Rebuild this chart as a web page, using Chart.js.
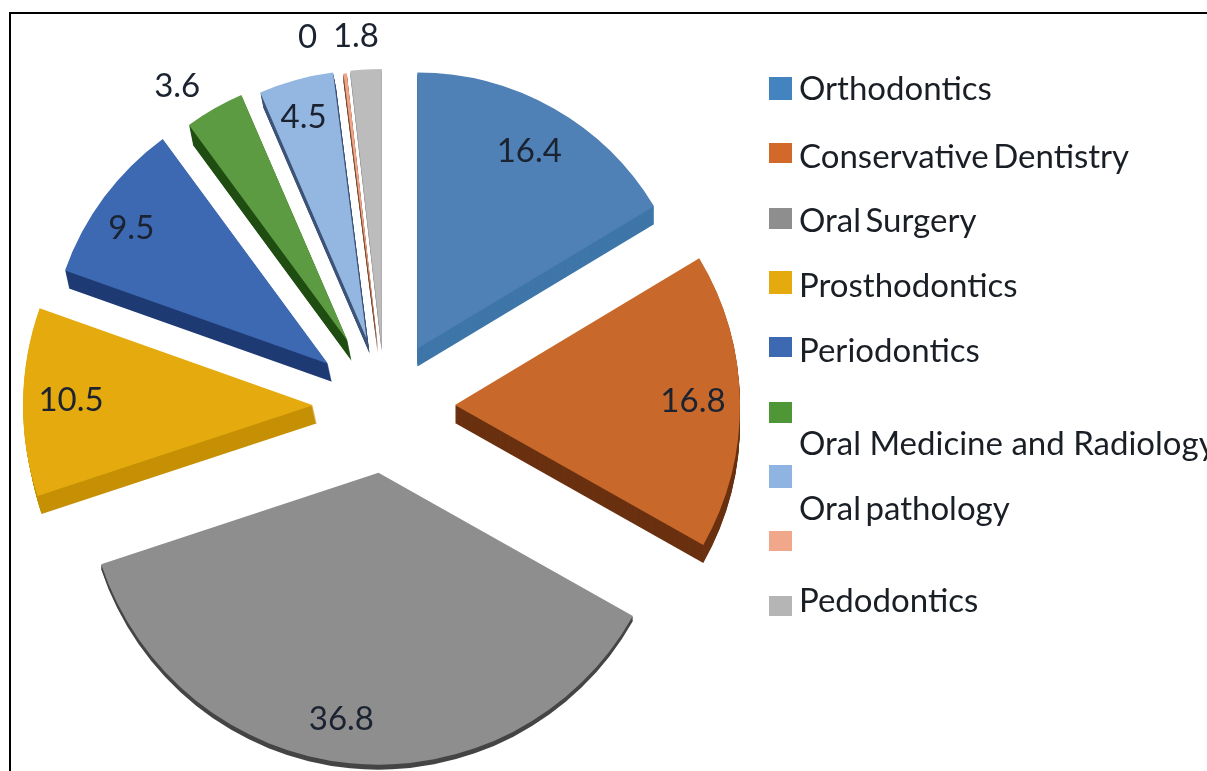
<!DOCTYPE html>
<html>
<head>
<meta charset="utf-8">
<title>Dental specialities</title>
<script src="https://cdn.jsdelivr.net/npm/chart.js@4"></script>
<style>
    html, body { margin: 0; padding: 0; background: #fff; overflow: hidden; }
    #wrap { position: relative; width: 1207px; height: 771px; overflow: hidden; }
    #frame { position: absolute; left: 9px; top: 12px; width: 1300px; height: 900px; border: 2px solid #000; }
    #pie { position: absolute; left: 0; top: 0; }
</style>
</head>
<body>
<div id="wrap">
    <div id="frame"></div>
    <canvas id="pie" width="1207" height="771"></canvas>
</div>
<script>
// slices clockwise from the top. The eighth one has a swatch but no name in the legend,
// it is labelled 0 but still shows as a thin sliver
const sliceNames = ['Orthodontics', 'Conservative Dentistry', 'Oral Surgery', 'Prosthodontics', 'Periodontics',
    'Oral Medicine and Radiology', 'Oral pathology', '', 'Pedodontics'];
const sliceValues = [16.4, 16.8, 36.8, 10.5, 9.5, 3.6, 4.5, 0.2, 1.8];
const valueLabels = ['16.4', '16.8', '36.8', '10.5', '9.5', '3.6', '4.5', '0', '1.8'];

const topColors = ['#4f81b6', '#c8692b', '#8e8e8e', '#e5ab0e', '#3d68b2', '#5c9b42', '#93b7e0', '#eea487', '#bcbcbc'];
const wallColors = ['#3f76a9', '#6a3110', '#454545', '#c69005', '#1f3b74', '#1f4d12', '#3e5478', '#7a4a30', '#9a9a9a'];
const legendColors = ['#4383c0', '#d2682a', '#8e8e8e', '#e5ab0e', '#3d68b2', '#4f9636', '#8fb4e2', '#f0a78a', '#b5b5b5'];

// layout of the exploded slices, px
const explode = [66, 70, 67, 72, 71, 75, 70, 60, 60];
const radii = [276, 285, 292, 290, 279, 268, 268, 275, 277];
const wallDepth = [18, 18, 5, 18, 18, 20, 15, 8, 5];
const wallShift = [0, 0, 0, 4, 4, 4, 3, 0, 0];
const labelDist = [227, 238, 249, 242, 239, 306, 230, 317, 311];
const labelTurn = [0, 0, 3, 0.5, -2, -4, -0.6, -6, -1.5];

// legend swatches and text do not line up in the original
const swatchTops = [77, 143, 208, 271, 337, 402, 465, 531, 596];
const swatchHeights = [23, 20, 21, 23, 20, 21, 23, 20, 20];
const textBaselines = [100, 168, 232, 297, 362, 455, 520, null, 612];
const wordGaps = [0, -4, -4, 0, 0, 0, -4, 0, 0];

const FONT = '33px Lato, "Open Sans", sans-serif';

const piePlugin = {
    id: 'pie3d',
    afterDatasetsUpdate(chart) {
        // explode by hand, every slice has its own distance and radius
        chart.getDatasetMeta(0).data.forEach((arc, i) => {
            const mid = (arc.startAngle + arc.endAngle) / 2;
            arc.x += Math.cos(mid) * explode[i];
            arc.y += Math.sin(mid) * explode[i];
            arc.outerRadius = radii[i];
        });
    },
    beforeDatasetsDraw(chart) {
        const ctx = chart.ctx;
        chart.getDatasetMeta(0).data.forEach((arc, i) => {
            const saved = arc.options;
            arc.options = Object.assign({}, saved, { backgroundColor: wallColors[i] });
            for (let k = wallDepth[i]; k > 0; k--) {
                ctx.save();
                ctx.translate(wallShift[i] * k / wallDepth[i], k);
                arc.draw(ctx);
                ctx.restore();
            }
            arc.options = saved;
        });
    },
    afterDatasetsDraw(chart) {
        const ctx = chart.ctx;
        ctx.save();
        ctx.font = FONT;
        ctx.textAlign = 'center';
        ctx.textBaseline = 'middle';
        ctx.fillStyle = '#1b2230';
        chart.getDatasetMeta(0).data.forEach((arc, i) => {
            const mid = (arc.startAngle + arc.endAngle) / 2 + labelTurn[i] * Math.PI / 180;
            ctx.fillText(valueLabels[i], arc.x + Math.cos(mid) * labelDist[i], arc.y + Math.sin(mid) * labelDist[i]);
        });
        ctx.restore();
    },
    afterDraw(chart) {
        const ctx = chart.ctx;
        ctx.save();
        legendColors.forEach((color, i) => {
            ctx.fillStyle = color;
            ctx.fillRect(769, swatchTops[i], 23, swatchHeights[i]);
        });
        ctx.font = FONT;
        ctx.textAlign = 'left';
        ctx.textBaseline = 'alphabetic';
        ctx.fillStyle = '#1a1f26';
        sliceNames.forEach((name, i) => {
            if (!name) return;
            ctx.wordSpacing = wordGaps[i] + 'px';
            ctx.fillText(name, 799, textBaselines[i]);
        });
        ctx.restore();
    }
};

new Chart(document.getElementById('pie'), {
    type: 'pie',
    data: {
        labels: sliceNames,
        datasets: [{
            data: sliceValues,
            backgroundColor: topColors,
            borderWidth: 0,
            clip: false
        }]
    },
    options: {
        responsive: false,
        animation: false,
        layout: { padding: { left: 0, right: 437, top: 41, bottom: 0 } },
        plugins: { legend: { display: false }, tooltip: { enabled: false } }
    },
    plugins: [piePlugin]
});
</script>
</body>
</html>
